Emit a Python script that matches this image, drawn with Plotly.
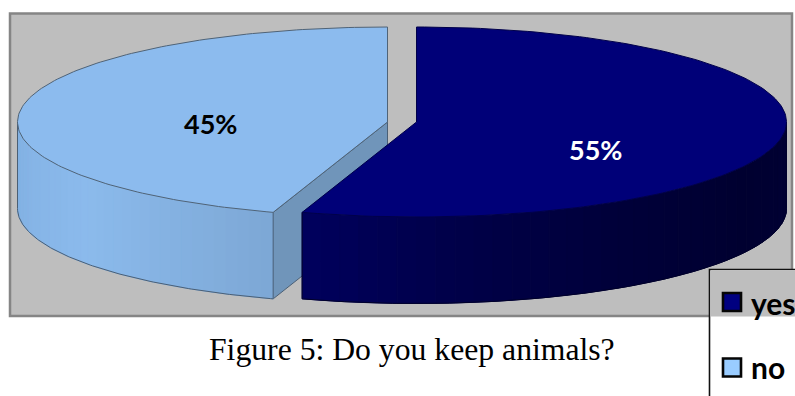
import numpy as np
import plotly.graph_objects as go

# Survey answers
categories = ["yes", "no"]
shares = [55, 45]

# Colours per category
top_colors = ["#000078", "#8CBBEE"]
key_colors = ["#000080", "#99CCFF"]

# Projected pie geometry, in canvas pixels
SEMI_X, SEMI_Y, DEPTH = 370.0, 95.0, 86.5
CENTERS = {"yes": (416.5, 122.0), "no": (387.5, 122.0)}


def rim(center, start, stop, n=160, drop=0.0):
    """Points on the projected rim, angles in degrees clockwise from twelve o'clock."""
    t = np.radians(np.linspace(start, stop, n))
    return center[0] + SEMI_X * np.sin(t), center[1] - SEMI_Y * np.cos(t) + drop


def poly(x, y, fill, line=None, width=1.0):
    return go.Scatter(
        x=list(x), y=list(y), mode="lines", fill="toself", fillcolor=fill,
        line=dict(color=line or fill, width=width), hoverinfo="skip", showlegend=False,
    )


def outline(x, y, color, width=1.0):
    return go.Scatter(
        x=list(x), y=list(y), mode="lines", line=dict(color=color, width=width),
        hoverinfo="skip", showlegend=False,
    )


def mix(stops, f):
    """Linear blend through a list of RGB stops."""
    p = f * (len(stops) - 1)
    i = min(int(p), len(stops) - 2)
    u = p - i
    a, b = np.array(stops[i]), np.array(stops[i + 1])
    c = a + (b - a) * u
    return "rgb(%d,%d,%d)" % tuple(c.round())


def wall(center, start, stop, stops, strips=36):
    """Curved side of a slice, shaded strip by strip."""
    edges = np.linspace(start, stop, strips + 1)
    out = []
    for k in range(strips):
        xa, ya = rim(center, edges[k], edges[k + 1], n=6)
        out.append(poly(np.r_[xa, xa[::-1], xa[0]], np.r_[ya, ya[::-1] + DEPTH, ya[0]],
                        mix(stops, k / (strips - 1))))
    return out


fig = go.Figure()

yes_sweep = 360.0 * shares[0] / sum(shares)
c_yes, c_no = CENTERS["yes"], CENTERS["no"]

# "no" slice: cut face, curved wall, then the top
ex, ey = rim(c_no, yes_sweep, yes_sweep, n=1)
fig.add_trace(poly([c_no[0], ex[0], ex[0], c_no[0], c_no[0]],
                   [c_no[1], ey[0], ey[0] + DEPTH, c_no[1] + DEPTH, c_no[1]],
                   "#7095BA", "#4A5F75"))
for tr in wall(c_no, yes_sweep, 270.0,
               [(125, 168, 214), (133, 178, 226), (139, 186, 236), (134, 181, 231), (130, 176, 226)]):
    fig.add_trace(tr)
wx, wy = rim(c_no, yes_sweep, 270.0)
fig.add_trace(outline(np.r_[ex[0], ex[0], wx, wx[-1]],
                      np.r_[ey[0], ey[0] + DEPTH, wy + DEPTH, wy[-1]], "#4A5F75"))
tx, ty = rim(c_no, yes_sweep, 360.0)
fig.add_trace(poly(np.r_[c_no[0], tx, c_no[0]], np.r_[c_no[1], ty, c_no[1]],
                   top_colors[1], "#4F6377"))

# "yes" slice: cut edge, curved wall, then the top
for tr in wall(c_yes, yes_sweep, 90.0,
               [(0, 0, 92), (0, 0, 70), (0, 0, 56), (0, 0, 48), (0, 0, 52)]):
    fig.add_trace(tr)
wx, wy = rim(c_yes, 90.0, yes_sweep)
fig.add_trace(outline(np.r_[wx[0], wx, wx[-1]],
                      np.r_[wy[0], wy + DEPTH, wy[-1]], "#00002A"))
tx, ty = rim(c_yes, 0.0, yes_sweep)
fig.add_trace(poly(np.r_[c_yes[0], tx, c_yes[0]], np.r_[c_yes[1], ty, c_yes[1]],
                   top_colors[0], "#00004A"))

# Legend swatches
for name, color, ky in zip(categories, key_colors, (302, 367.5)):
    fig.add_trace(go.Scatter(
        x=[732], y=[ky], mode="markers",
        marker=dict(symbol="square", size=18, color=color, line=dict(color="#050505", width=2.6)),
        hoverinfo="skip", showlegend=False, name=name,
    ))


def label(x, y, text, size, color="#000000", family="Lato", bold=True, anchor="center"):
    fig.add_annotation(
        x=x, y=y, text=f"<b>{text}</b>" if bold else text, showarrow=False,
        xanchor=anchor, yanchor="middle", xshift=0,
        font=dict(family=family, size=size, color=color),
    )


label(210, 123, f"{shares[1]}%", 27)
label(595, 149, f"{shares[0]}%", 27, color="#FFFFFF")
label(749, 303, categories[0], 30, anchor="left")
label(749, 367, categories[1], 30, anchor="left")
label(412, 349, "Figure 5: Do you keep animals?", 31.7, family="Liberation Serif", bold=False)

fig.update_layout(
    width=795, height=396, autosize=False,
    margin=dict(l=0, r=0, t=0, b=0),
    paper_bgcolor="#FFFFFF", plot_bgcolor="#FFFFFF",
    xaxis=dict(range=[0, 795], visible=False, fixedrange=True),
    yaxis=dict(range=[396, 0], visible=False, fixedrange=True),
    shapes=[
        # chart panel
        dict(type="rect", layer="below", x0=10, y0=13.5, x1=792, y1=316,
             fillcolor="#BEBEBE", line=dict(color="#858585", width=2.5)),
        # legend frame, running off the canvas
        dict(type="rect", layer="below", x0=709.5, y0=269.5, x1=830, y1=430,
             fillcolor="#FFFFFF", line=dict(color="#111111", width=1.6)),
        dict(type="rect", layer="below", x0=710.5, y0=270.5, x1=830, y1=316.5,
             fillcolor="#BEBEBE", line=dict(width=0)),
    ],
)

fig.write_html("out.html", config=dict(displayModeBar=False))
